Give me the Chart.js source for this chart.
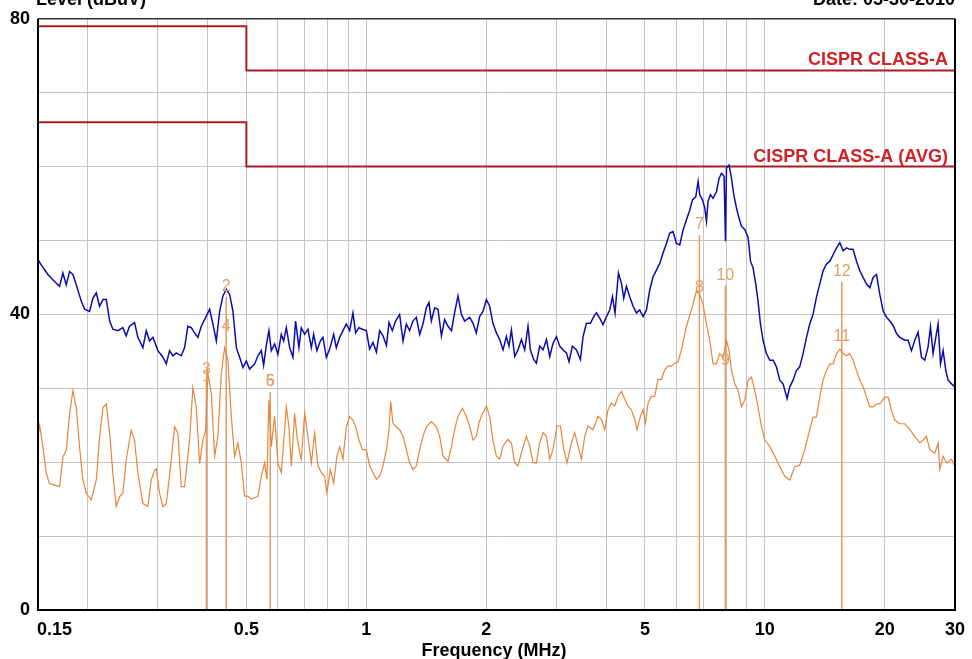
<!DOCTYPE html>
<html>
<head>
<meta charset="utf-8">
<script src="https://cdn.jsdelivr.net/npm/chart.js@4.4.1/dist/chart.umd.min.js"></script>
<style>
  html, body { margin: 0; padding: 0; background: #fff; }
  #wrap { width: 972px; height: 659px; }
</style>
</head>
<body>
<div id="wrap"><canvas id="myChart" width="972" height="659"></canvas></div>
<script>
// peak (QP) trace, MHz / dBuV
const peakFreq = [
  0.150, 0.1528, 0.1588, 0.1634, 0.1699, 0.1732, 0.1766, 0.1800, 0.1835, 0.1871, 0.1926, 0.1963,
  0.2021, 0.2060, 0.2101, 0.2141, 0.2183, 0.2226, 0.2269, 0.2312, 0.2379, 0.2449, 0.2497, 0.2545,
  0.2620, 0.2671, 0.2750, 0.2804, 0.2858, 0.2914, 0.2999, 0.3087, 0.3148, 0.3208, 0.3270, 0.3335,
  0.3432, 0.3499, 0.3566, 0.3637, 0.3707, 0.3779, 0.3853, 0.3928, 0.4044, 0.4121, 0.4203, 0.4284,
  0.4367, 0.4453, 0.4539, 0.4627, 0.4719, 0.4809, 0.4902, 0.4998,
  0.5095, 0.5244, 0.5345, 0.5451, 0.5524, 0.5610, 0.5695, 0.5775, 0.5887, 0.5999, 0.6118, 0.6200,
  0.6298, 0.6420, 0.6544, 0.6646, 0.6774, 0.6868, 0.7001, 0.7136, 0.7277, 0.7375, 0.7516, 0.7665,
  0.7782, 0.7936, 0.8090, 0.8279, 0.8407, 0.8570, 0.8736, 0.8909, 0.9080, 0.9255, 0.9400, 0.9581,
  0.9772, 1.000, 1.019, 1.039, 1.060, 1.080, 1.101, 1.123, 1.140, 1.162, 1.184, 1.212, 1.236, 1.260,
  1.284, 1.309, 1.335, 1.361, 1.387, 1.414, 1.436, 1.456, 1.484, 1.513, 1.543, 1.572, 1.603, 1.635,
  1.665, 1.698, 1.732, 1.765, 1.817,
  1.852, 1.888, 1.924, 1.962, 2.001, 2.039, 2.078, 2.120, 2.161, 2.203, 2.246, 2.280, 2.312, 2.357,
  2.402, 2.450, 2.497, 2.545, 2.580, 2.630, 2.671, 2.723, 2.776, 2.831, 2.885, 2.941, 2.999, 3.057,
  3.116, 3.177, 3.225, 3.289, 3.366, 3.445, 3.498, 3.567, 3.650, 3.720, 3.779, 3.852, 3.926, 4.004,
  4.081, 4.146, 4.207, 4.291, 4.367, 4.425, 4.494, 4.581, 4.670, 4.762, 4.853, 4.947, 5.045, 5.142,
  5.241, 5.345, 5.448, 5.553, 5.662, 5.772, 5.883, 5.999, 6.115, 6.233, 6.356, 6.478, 6.581, 6.708,
  6.800,
  6.865, 6.973, 7.067, 7.136, 7.202, 7.304, 7.413, 7.560, 7.676, 7.783, 7.901, 7.965, 8.011, 8.133,
  8.247, 8.356, 8.487, 8.616, 8.737, 8.904, 9.076, 9.204, 9.342, 9.489, 9.614, 9.750, 9.897, 10.09,
  10.29, 10.49, 10.69, 10.90, 11.11, 11.37, 11.55, 11.77, 12.00, 12.23, 12.47, 12.72, 12.96, 13.21,
  13.47, 13.73, 14.00, 14.27, 14.56, 14.84, 15.13, 15.42, 15.72, 16.03, 16.34, 16.65, 16.98, 17.31,
  17.64, 17.99, 18.34, 18.69, 19.06, 19.43, 19.80, 20.20, 20.59, 20.98, 21.40, 21.81, 22.45, 22.88,
  23.33, 23.78, 24.24, 24.72, 25.19, 25.68, 26.04, 26.43, 26.85, 27.21, 27.59, 28.01, 28.45, 28.83,
  29.40, 30.0
];
const peakLevel = [
  47.4, 46.7, 45.4, 44.7, 43.8, 45.6, 44.0, 45.8, 45.4, 44.0, 41.8, 40.7,
  40.4, 42.2, 42.9, 41.1, 42.0, 42.0, 39.1, 38.0, 37.8, 38.2, 37.1, 38.4,
  38.9, 36.9, 35.5, 37.8, 36.4, 36.9, 35.1, 34.2, 33.3, 35.1, 34.4, 34.8,
  34.4, 35.5, 38.4, 38.2, 37.5, 36.9, 38.4, 39.3, 40.7, 38.7, 36.4, 40.4,
  42.5, 43.4, 42.7, 40.4, 35.5, 34.2, 32.8, 33.7,
  32.6, 33.3, 34.4, 35.1, 33.1, 35.8, 37.8, 35.1, 36.0, 34.6, 37.3, 36.4,
  38.2, 35.5, 34.2, 39.1, 35.5, 38.2, 37.3, 38.0, 35.5, 37.3, 35.1, 36.4,
  36.9, 34.2, 35.3, 37.3, 35.5, 36.9, 37.8, 38.7, 37.8, 40.2, 37.5, 38.2,
  38.0, 37.8, 35.3, 36.2, 34.9, 37.8, 37.1, 35.8, 38.9, 37.8, 39.1, 40.0, 36.4, 38.7,
  37.8, 39.1, 39.6, 37.3, 38.7, 40.9, 41.6, 39.1, 40.9, 40.7, 37.1, 39.3, 38.4, 37.8,
  40.2, 42.5, 40.0, 39.1, 39.6,
  38.8, 37.5, 39.7, 40.4, 42.0, 41.1, 38.8, 37.5, 36.6, 35.2, 37.0, 35.7, 37.9, 34.3,
  35.2, 36.6, 35.2, 38.4, 35.2, 33.9, 33.4, 35.7, 35.2, 36.6, 34.3, 36.1, 37.0, 35.7,
  35.2, 34.8, 33.6, 35.7, 35.2, 33.9, 37.0, 38.8, 38.8, 39.7, 40.2, 39.5, 38.6, 39.7,
  40.6, 42.4, 40.2, 45.6, 44.2, 42.2, 43.8, 42.4, 41.1, 40.2, 40.6, 39.7, 40.6, 43.3,
  45.1, 46.0, 46.9, 48.3, 49.6, 51.0, 51.2, 49.6, 49.4, 51.4, 52.8, 54.1, 55.5, 55.9,
  58.0,
  56.2, 55.5, 54.4, 52.6, 55.3, 56.2, 55.7, 56.6, 58.4, 59.1, 58.7, 49.9, 59.8, 60.2,
  58.4, 56.2, 54.4, 53.0, 51.9, 51.5, 50.4, 47.2, 46.3, 44.1, 41.8, 38.7, 36.5, 34.7,
  33.8, 33.8, 32.9, 31.1, 30.6, 28.6, 30.2, 31.1, 32.4, 32.9, 34.7, 36.9, 38.7, 40.0,
  42.3, 44.1, 45.9, 46.8, 47.2, 48.1, 49.0, 49.7, 48.6, 49.0, 48.8, 48.8, 47.2, 45.9,
  45.0, 44.1, 43.6, 45.0, 45.4, 42.7, 40.5, 39.6, 39.1, 38.5, 37.4, 36.9, 36.5, 36.5,
  35.1, 36.5, 37.6, 34.2, 33.8, 35.6, 38.3, 34.7, 36.9, 38.7, 33.3, 35.1, 32.4, 31.1,
  30.6, 30.2
];

// average trace, MHz / dBuV
const avgFreq = [
  0.150, 0.1514, 0.1543, 0.1573, 0.1603, 0.1650, 0.1699, 0.1732, 0.1766, 0.1800, 0.1835, 0.1871,
  0.1907, 0.1944, 0.1983, 0.2040, 0.2101, 0.2141, 0.2183, 0.2226, 0.2269, 0.2312, 0.2357, 0.2403,
  0.2449, 0.2497, 0.2570, 0.2620, 0.2671, 0.2750, 0.2830, 0.2886, 0.2942, 0.2971, 0.3028, 0.3087,
  0.3148, 0.3240, 0.3302, 0.3366, 0.3432, 0.3499, 0.3601, 0.3671, 0.3744, 0.3816,
  0.3890, 0.3951, 0.4003, 0.4083, 0.4162, 0.4242, 0.4325, 0.4409, 0.4494, 0.4583, 0.4671, 0.4761,
  0.4855, 0.4949, 0.5044, 0.5144, 0.5345, 0.5451, 0.5556, 0.5630, 0.5695, 0.5775,
  0.5810, 0.5887, 0.5999, 0.6118, 0.6236, 0.6298, 0.6393, 0.6482, 0.6607, 0.6696, 0.6803, 0.6868,
  0.7001, 0.7136, 0.7277, 0.7417, 0.7560, 0.7710, 0.7857, 0.7963, 0.8121, 0.8279, 0.8436, 0.8570,
  0.8736, 0.8909, 0.9080, 0.9255, 0.9400, 0.9581, 0.9772, 1.000, 1.019, 1.039, 1.060, 1.080,
  1.101, 1.123, 1.140, 1.151, 1.166, 1.189, 1.212, 1.236, 1.260, 1.284, 1.309, 1.335, 1.361, 1.387,
  1.414, 1.456, 1.499, 1.528, 1.557, 1.603, 1.635, 1.665, 1.698, 1.742, 1.782, 1.817, 1.852, 1.888,
  1.917,
  1.943, 2.001, 2.039, 2.078, 2.120, 2.161, 2.203, 2.267, 2.312, 2.357, 2.402, 2.450, 2.521, 2.570,
  2.620, 2.671, 2.723, 2.776, 2.831, 2.885, 2.941, 3.010, 3.069, 3.129, 3.188, 3.270, 3.333, 3.397,
  3.465, 3.531, 3.599, 3.705, 3.814, 3.890, 3.964, 4.041, 4.121, 4.200, 4.281, 4.367, 4.451, 4.535,
  4.626, 4.714, 4.778, 4.872, 4.947, 5.016, 5.092, 5.193, 5.292, 5.394, 5.502, 5.606, 5.715, 5.829,
  5.940, 6.055, 6.176, 6.356, 6.544,
  6.735, 6.865, 6.997, 7.136, 7.273, 7.413, 7.560, 7.706, 7.856, 8.011, 8.133, 8.247, 8.405, 8.566,
  8.737, 8.904, 9.076, 9.256, 9.434, 9.614, 9.806, 9.995, 10.29, 10.59, 10.90, 11.22, 11.55, 11.89,
  12.23, 12.59, 12.96, 13.21, 13.47, 13.73, 14.00, 14.27, 14.56, 14.84, 15.13, 15.42, 15.72, 16.03,
  16.34, 16.65, 16.98, 17.31, 17.64, 17.99, 18.34, 18.69, 19.06, 19.43, 19.99, 20.39, 20.79, 21.19,
  21.81, 22.45, 23.10, 23.78, 24.48, 24.95, 25.44, 25.93, 26.69, 27.21, 27.48, 28.01, 28.57, 29.40,
  30.0
];
const avgLevel = [
  23.5, 25.0, 22.1, 18.5, 17.1, 16.9, 16.7, 20.7, 21.6, 26.5, 29.7, 27.4,
  22.1, 17.6, 15.8, 14.9, 17.6, 23.4, 27.4, 27.9, 23.9, 18.5, 14.0, 15.3,
  15.8, 20.3, 24.3, 23.0, 18.5, 14.4, 14.0, 17.6, 18.9, 19.1, 15.8, 14.0,
  14.4, 20.3, 24.8, 23.9, 16.7, 16.7, 23.0, 30.1, 27.4, 19.8,
  23.0, 24.4, 32.0, 29.3, 20.8, 23.5, 32.0, 35.5, 33.8, 26.2, 20.8, 22.6,
  19.9, 15.4, 15.4, 15.0, 15.4, 18.1, 19.9, 17.7, 28.4, 22.1,
  23.5, 26.2, 19.9, 18.6, 24.4, 27.5, 24.8, 19.5, 26.6, 23.5, 21.3, 20.4,
  26.6, 23.5, 19.9, 23.9, 19.5, 18.6, 18.1, 15.9, 19.0, 17.2, 20.8, 22.1,
  20.4, 24.8, 26.2, 25.7, 24.8, 23.0, 21.7, 21.7, 19.5, 18.6, 17.7, 18.1,
  19.5, 21.7, 24.4, 28.2, 25.3, 24.8, 24.4, 23.5, 21.7, 19.9, 19.0, 19.5, 21.7, 23.5,
  24.8, 25.5, 24.8, 23.5, 20.8, 20.1, 22.1, 24.4, 26.2, 27.3, 26.2, 24.8, 23.0, 23.5,
  25.3,
  26.2, 27.6, 26.2, 23.0, 20.8, 20.4, 22.2, 23.1, 22.6, 19.9, 19.5, 21.3, 23.5, 22.2,
  19.9, 19.9, 22.6, 24.0, 23.5, 20.4, 21.7, 24.9, 24.9, 21.7, 19.9, 22.6, 24.0, 22.2,
  20.4, 23.5, 24.9, 24.4, 26.2, 25.8, 24.4, 27.1, 28.0, 27.6, 28.9, 29.6, 28.5, 27.6,
  27.1, 25.8, 24.4, 26.2, 27.1, 25.3, 28.0, 28.9, 28.9, 31.2, 31.2, 32.5, 33.0, 33.0,
  33.4, 33.6, 35.2, 38.4, 40.6,
  43.2, 42.7, 41.4, 38.7, 36.5, 33.3, 33.3, 34.7, 34.2, 36.5, 35.1, 32.4, 30.6, 29.7,
  27.5, 28.4, 31.1, 31.5, 29.7, 27.5, 24.8, 23.0, 22.1, 20.8, 19.4, 18.1, 17.6, 19.4,
  19.6, 21.7, 24.4, 26.1, 26.1, 28.8, 31.1, 32.4, 33.3, 33.3, 34.7, 35.3, 34.7, 34.4,
  34.7, 33.8, 32.4, 31.1, 30.2, 28.8, 27.5, 27.5, 27.9, 27.9, 28.8, 28.8, 27.0, 25.7,
  25.2, 25.2, 24.4, 23.5, 22.6, 23.0, 23.5, 21.7, 21.2, 22.6, 19.0, 20.8, 19.9, 20.4,
  19.4
];

// CISPR class A limits
const limitFreq = [0.15, 0.5, 0.5, 30];
const limitQP = [79, 79, 73, 73];
const limitAVG = [66, 66, 60, 60];

// markers
const markerNames = ['1', '2', '3', '4', '5', '6', '7', '8', '9', '10', '11', '12'];
const markerFreq = [0.397, 0.445, 0.397, 0.445, 0.574, 0.574, 6.85, 6.85, 7.96, 7.96, 15.6, 15.6];
const markerLevel = [30.2, 42.4, 31.1, 37.0, 29.5, 29.5, 50.7, 42.2, 32.4, 43.9, 35.6, 44.4];

// axes
const freqGrid = [0.15, 0.2, 0.3, 0.4, 0.5, 0.6, 0.7, 0.8, 0.9, 1, 2, 3, 4, 5, 6, 7, 8, 9, 10, 20, 30];
const freqLabels = [0.15, 0.5, 1, 2, 5, 10, 20, 30];
const levelLabels = [0, 40, 80];

const FONT = '"Liberation Sans", Arial, sans-serif';

function toPoints(xs, ys) {
  return xs.map((x, i) => ({ x: x, y: ys[i] }));
}

const markerPoints = [];
markerFreq.forEach((f, i) => {
  markerPoints.push({ x: f, y: 0 }, { x: f, y: markerLevel[i] }, { x: f, y: null });
});

const decorPlugin = {
  id: 'decor',
  afterDraw(chart) {
    const c = chart.ctx;
    const xs = chart.scales.x;
    const ys = chart.scales.y;
    const a = chart.chartArea;

    c.save();
    // frame
    c.strokeStyle = '#333';
    c.lineWidth = 1.5;
    c.beginPath();
    c.moveTo(a.left, a.top);
    c.lineTo(a.right, a.top);
    c.stroke();
    c.strokeStyle = '#000';
    c.lineWidth = 2;
    c.beginPath();
    c.moveTo(a.left, a.top);
    c.lineTo(a.left, a.bottom);
    c.lineTo(a.right, a.bottom);
    c.lineTo(a.right, a.top);
    c.stroke();

    // limit names
    c.fillStyle = '#D02328';
    c.font = 'bold 18px ' + FONT;
    c.textAlign = 'right';
    c.textBaseline = 'alphabetic';
    c.fillText('CISPR CLASS-A', a.right - 7, ys.getPixelForValue(limitQP[3]) - 6);
    c.fillText('CISPR CLASS-A (AVG)', a.right - 7, ys.getPixelForValue(limitAVG[3]) - 5);

    // marker labels
    c.fillStyle = '#E3A062';
    c.font = '16px ' + FONT;
    c.textAlign = 'center';
    markerNames.forEach((n, i) => {
      c.fillText(n, xs.getPixelForValue(markerFreq[i]), ys.getPixelForValue(markerLevel[i]) - 6);
    });

    // x tick labels
    c.fillStyle = '#000';
    c.font = 'bold 18px ' + FONT;
    freqLabels.forEach((v, i) => {
      c.textAlign = i === 0 ? 'left' : 'center';
      const px = xs.getPixelForValue(v);
      c.fillText(String(v), i === 0 ? px - 1 : px, a.bottom + 25);
    });

    // titles
    c.textAlign = 'left';
    c.fillText('Level (dBuV)', a.left - 2, 5);
    c.textAlign = 'right';
    c.fillText('Date: 05-30-2010', a.right, 5);
    c.textAlign = 'center';
    c.fillText('Frequency (MHz)', 494, 656);
    c.restore();
  }
};

window.onload = () => {
  const ctx = document.getElementById('myChart');

  new Chart(ctx, {
    type: 'line',
    data: {
      datasets: [
        { data: toPoints(peakFreq, peakLevel), borderColor: '#0C0CAE', borderWidth: 1.5, order: 1 },
        { data: toPoints(avgFreq, avgLevel), borderColor: '#E8853A', borderWidth: 1.2, order: 2 },
        { data: markerPoints, borderColor: '#E59A5A', borderWidth: 1.5, spanGaps: false, order: 3 },
        { data: toPoints(limitFreq, limitAVG), borderColor: '#A81E24', borderWidth: 2, order: 4 },
        { data: toPoints(limitFreq, limitQP), borderColor: '#A81E24', borderWidth: 2, order: 5 }
      ]
    },
    options: {
      responsive: false,
      animation: false,
      layout: { padding: { top: 18, right: 17, left: 0, bottom: 0 } },
      plugins: { legend: { display: false }, tooltip: { enabled: false } },
      elements: { line: { tension: 0, fill: false }, point: { radius: 0 } },
      scales: {
        x: {
          type: 'logarithmic',
          min: 0.15,
          max: 30,
          afterBuildTicks: (s) => { s.ticks = freqGrid.map((v) => ({ value: v })); },
          afterFit: (s) => { s.height = 49; },
          ticks: { display: false },
          grid: { color: '#C4C4C4', lineWidth: 1, drawTicks: false },
          border: { display: false }
        },
        y: {
          min: 0,
          max: 80,
          afterFit: (s) => { s.width = 38; },
          ticks: {
            stepSize: 10,
            autoSkip: false,
            padding: 8,
            color: '#000',
            font: { family: FONT, size: 18, weight: 'bold' },
            callback: (v) => (levelLabels.includes(v) ? String(v) : '')
          },
          grid: { color: '#C4C4C4', lineWidth: 1, drawTicks: false },
          border: { display: false }
        }
      }
    },
    plugins: [decorPlugin]
  });
};
</script>
</body>
</html>
